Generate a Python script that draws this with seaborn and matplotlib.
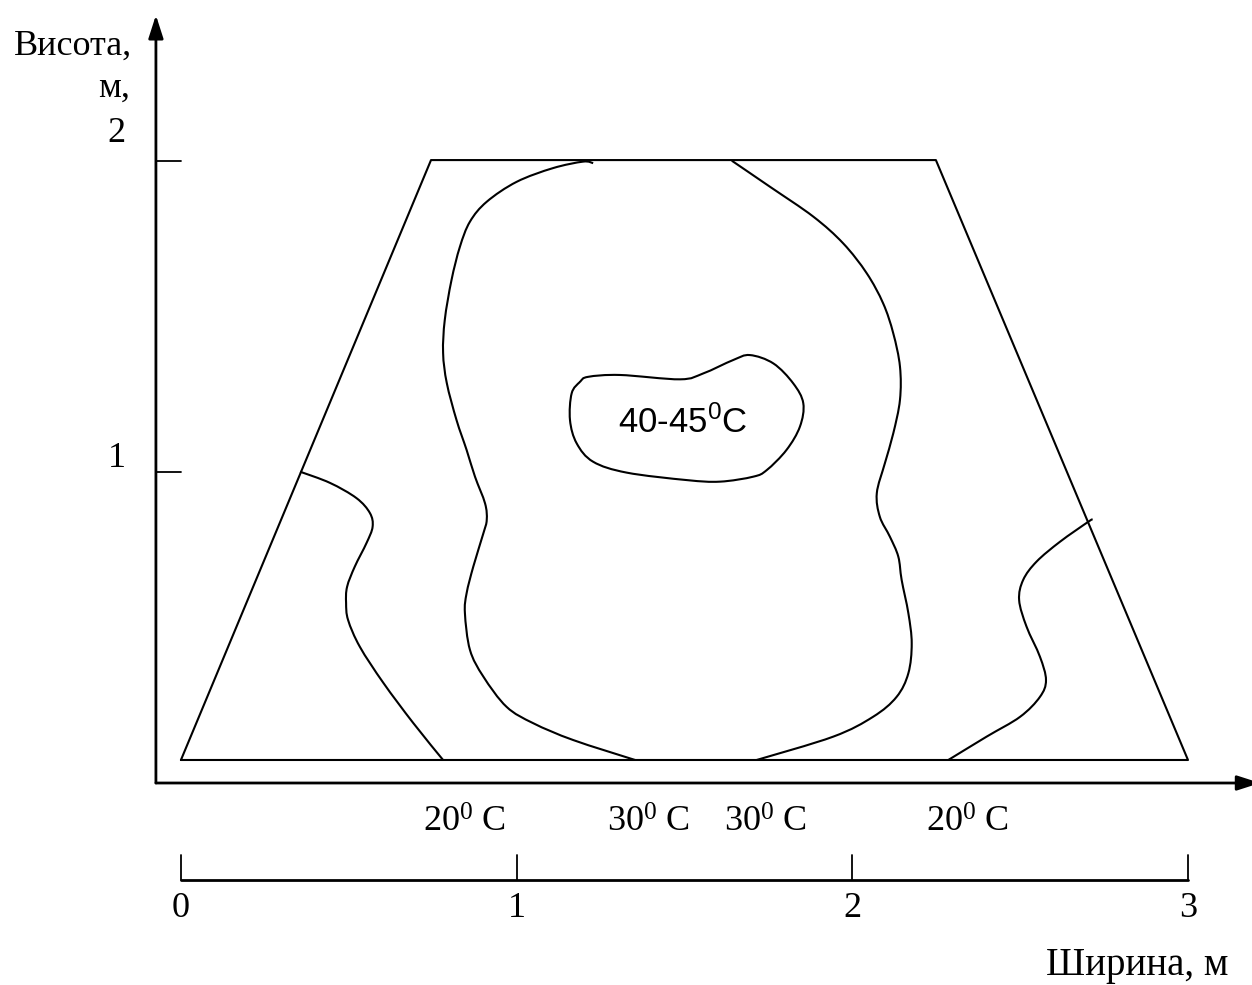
import numpy as np
import seaborn as sns
from matplotlib import pyplot as plt
from matplotlib.path import Path
from matplotlib.patches import PathPatch

# ---- data (metres) ----
# trapezoid cross-section corners
trap_x = [0.0, 0.745, 2.249, 3.0, 0.0]
trap_y = [0.074, 2.003, 2.003, 0.074, 0.074]

# 20 C isotherm, left
iso20_left_x = [0.355, 0.444, 0.523, 0.563, 0.571, 0.553, 0.518, 0.495, 0.492, 0.498,
                0.533, 0.603, 0.692, 0.781]
iso20_left_y = [1.001, 0.965, 0.916, 0.868, 0.824, 0.772, 0.696, 0.631, 0.579, 0.524,
                0.438, 0.322, 0.193, 0.074]

# 30 C isotherm, left branch
iso30_left_x = [1.228, 1.198, 1.108, 1.000, 0.911, 0.861, 0.831, 0.806, 0.786, 0.781,
                0.792, 0.821, 0.851, 0.876, 0.906, 0.911, 0.901, 0.871, 0.851, 0.846,
                0.861, 0.901, 0.970, 1.050, 1.169, 1.353]
iso30_left_y = [1.993, 1.998, 1.977, 1.933, 1.869, 1.805, 1.724, 1.617, 1.489, 1.383,
                1.286, 1.167, 1.071, 0.985, 0.899, 0.846, 0.803, 0.696, 0.610, 0.546,
                0.428, 0.342, 0.245, 0.192, 0.138, 0.074]

# 30 C isotherm, right branch
iso30_right_x = [1.641, 1.755, 1.884, 1.973, 2.043, 2.092, 2.122, 2.142, 2.142, 2.122,
                 2.097, 2.073, 2.082, 2.112, 2.137, 2.147, 2.167, 2.177, 2.167, 2.132,
                 2.062, 1.943, 1.715]
iso30_right_y = [2.001, 1.917, 1.821, 1.735, 1.639, 1.542, 1.446, 1.339, 1.232, 1.124,
                 1.028, 0.932, 0.856, 0.792, 0.728, 0.653, 0.546, 0.449, 0.353, 0.277,
                 0.213, 0.149, 0.074]

# 40-45 C core (closed loop)
core_x = [1.189, 1.213, 1.308, 1.487, 1.556, 1.645, 1.695, 1.765, 1.824, 1.854, 1.844,
          1.804, 1.745, 1.705, 1.606, 1.507, 1.328, 1.228, 1.179, 1.159, 1.164]
core_y = [1.290, 1.306, 1.312, 1.298, 1.317, 1.360, 1.376, 1.349, 1.285, 1.221, 1.146,
          1.071, 1.006, 0.985, 0.969, 0.974, 0.998, 1.033, 1.092, 1.167, 1.253]

# 20 C isotherm, right
iso20_right_x = [2.716, 2.703, 2.619, 2.549, 2.509, 2.497, 2.519, 2.559, 2.577, 2.559,
                 2.500, 2.400, 2.286]
iso20_right_y = [0.848, 0.840, 0.776, 0.712, 0.653, 0.588, 0.503, 0.406, 0.331, 0.277,
                 0.213, 0.149, 0.074]

# labels
iso_labels = ['20$^0$ C', '30$^0$ C', '30$^0$ C', '20$^0$ C']
iso_label_x = [0.846, 1.394, 1.740, 2.342]
height_ticks = [1, 2]
width_ticks = [0, 1, 2, 3]
core_label = '40-45$^0$C'


def smooth_path(xs, ys, closed=False):
    # cubic bezier path through the read points (catmull-rom tangents)
    p = np.column_stack([xs, ys])
    n = len(p)
    if closed:
        get = lambda i: p[i % n]
        segs = n
    else:
        get = lambda i: p[min(max(i, 0), n - 1)]
        segs = n - 1
    verts = [p[0]]
    codes = [Path.MOVETO]
    for i in range(segs):
        p0, p1, p2, p3 = get(i - 1), get(i), get(i + 1), get(i + 2)
        verts += [p1 + (p2 - p0) / 6, p2 - (p3 - p1) / 6, p2]
        codes += [Path.CURVE4] * 3
    return Path(verts, codes)


# ---- style ----
sns.set_style('white')
plt.rcParams['font.family'] = ['Liberation Serif', 'DejaVu Serif']
plt.rcParams['mathtext.default'] = 'regular'
plt.rcParams['text.color'] = 'black'

fig = plt.figure(figsize=(12.52, 9.85), dpi=100, facecolor='white')
ax = fig.add_axes([0, 0, 1, 1])
ax.set_xlim(-0.539, 3.1907)
ax.set_ylim(-0.6495, 2.5177)
ax.axis('off')

# trapezoid outline
sns.lineplot(x=np.array(trap_x), y=np.array(trap_y), sort=False, estimator=None,
             color='black', linewidth=1.5, ax=ax, legend=False)

# isotherms
curves = [(iso20_left_x, iso20_left_y, False), (iso30_left_x, iso30_left_y, False),
          (iso30_right_x, iso30_right_y, False), (core_x, core_y, True),
          (iso20_right_x, iso20_right_y, False)]
for cx, cy, closed in curves:
    ax.add_patch(PathPatch(smooth_path(cx, cy, closed), fill=False,
                           edgecolor='black', lw=1.5))

# main axes with arrows
ax0 = -0.0745
arrow_kw = dict(arrowstyle='-|>,head_length=1.4,head_width=0.45', color='black', lw=2,
                shrinkA=0, shrinkB=0)
ax.annotate('', xy=(ax0, 2.469), xytext=(ax0, 0.0), arrowprops=arrow_kw,
            annotation_clip=False)
ax.annotate('', xy=(3.215, 0.0), xytext=(ax0, 0.0), arrowprops=arrow_kw,
            annotation_clip=False)

# height ticks
tick_label_y = {1: 1.016, 2: 2.061}
for t in height_ticks:
    ax.plot([ax0, 0.0], [t, t], color='black', lw=1.3)
    ax.text(-0.165, tick_label_y[t], str(t), ha='right', va='baseline', fontsize=26)

ax.text(-0.146, 2.341, 'Висота,', ha='right', va='baseline', fontsize=26)
ax.text(-0.152, 2.206, 'м,', ha='right', va='baseline', fontsize=26)

# isotherm labels
for lx, lab in zip(iso_label_x, iso_labels):
    ax.text(lx, -0.158, lab, ha='center', va='baseline', fontsize=26)

ax.text(1.302, 1.125, core_label, ha='left', va='baseline', fontsize=25,
        family=['Liberation Sans', 'DejaVu Sans'])

# width ruler
ax.plot([width_ticks[0], width_ticks[-1]], [-0.312, -0.312], color='black', lw=2)
for t in width_ticks:
    ax.plot([t, t], [-0.2315, -0.312], color='black', lw=1.3)
    ax.text(t, -0.431, str(t), ha='center', va='baseline', fontsize=26)

ax.text(3.12, -0.617, 'Ширина, м', ha='right', va='baseline', fontsize=28)

fig.savefig('out.png', dpi=100, facecolor='white')
